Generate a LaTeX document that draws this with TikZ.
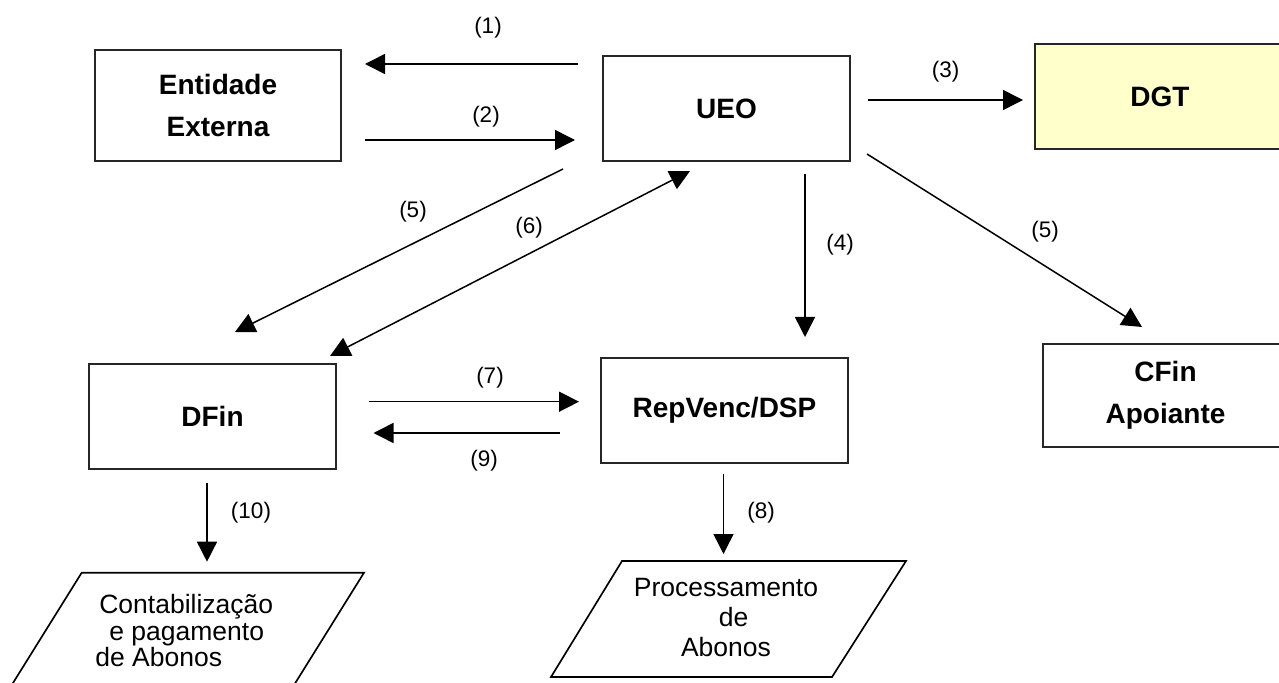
\documentclass[tikz,border=0pt]{standalone}
\usepackage{fontspec}
\setmainfont{Liberation Sans}
\usetikzlibrary{arrows.meta}
\definecolor{dgtfill}{HTML}{FFFFCC}
\begin{document}
\begin{tikzpicture}[x=0.6pt,y=-0.6pt,
  box/.style={draw=black!85, line width=1.2pt, inner sep=0pt, align=center,
    font=\fontsize{16.8}{25.2}\selectfont\bfseries},
  lbl/.style={font=\fontsize{13.5}{16}\selectfont, inner sep=0pt},
  flow/.style={line width=0.9pt, -{Triangle[length=12pt,width=12pt]}},
  twoway/.style={line width=0.9pt, {Triangle[length=12pt,width=12pt]}-{Triangle[length=12pt,width=12pt]}},
  ptext/.style={inner sep=0pt},
  io/.style={draw=black, line width=1pt}
]
\useasboundingbox (0,0) rectangle (1279,683);
\fill[white] (0,0) rectangle (1279,683);

% boxes
\node[box, minimum width=147.6pt, minimum height=66.6pt] (ent) at (218,105.5) {Entidade\\Externa};
\node[box, minimum width=148.2pt, minimum height=63pt] (ueo) at (726.5,108.5) {UEO};
\node[box, fill=dgtfill, minimum width=150pt, minimum height=63pt] (dgt) at (1160,96.5) {DGT};
\node[box, minimum width=148.2pt, minimum height=63pt] (dfin) at (212.5,416.5) {DFin};
\node[box, minimum width=148.2pt, minimum height=63pt] (rep) at (724.5,410.5) {RepVenc/DSP};
\node[box, minimum width=147pt, minimum height=61.8pt, font=\fontsize{16.8}{25}\selectfont\bfseries] (cfin) at (1165.5,395.5) {CFin\\Apoiante};

% parallelograms
\coordinate (pa1) at (81.7,572.7);
\coordinate (pa2) at (364,572.7);
\coordinate (pa3) at (284.7,700);
\coordinate (pa4) at (2.4,700);
\draw[io] (pa1) -- (pa2) -- (pa3) -- (pa4) -- cycle;
\node[ptext, anchor=north west, align=left, font=\fontsize{15.9}{16}\selectfont] (contab) at (95,594)
  {\hspace*{2.4pt}Contabilização\\\hspace*{8.4pt}e pagamento\\de Abonos};

\coordinate (pb1) at (622,561);
\coordinate (pb2) at (906,561);
\coordinate (pb3) at (832,677);
\coordinate (pb4) at (551,677);
\draw[io] (pb1) -- (pb2) -- (pb3) -- (pb4) -- cycle;
\node[ptext, anchor=north, align=center, font=\fontsize{15.9}{18}\selectfont] (proc) at (726,578)
  {Processamento\\\hspace*{9pt}de\\Abonos};

% connector end points
\coordinate (a1s) at (578,64);   \coordinate (a1e) at (365,64);
\coordinate (a2s) at (364.5,140); \coordinate (a2e) at (575,140);
\coordinate (a3s) at (868,100);  \coordinate (a3e) at (1023,100);
\coordinate (a4s) at (805,174);  \coordinate (a4e) at (805,337);
\coordinate (a5s) at (867,154);  \coordinate (a5e) at (1142,327);
\coordinate (b5s) at (563,169);  \coordinate (b5e) at (235,332);
\coordinate (a6s) at (330,356);  \coordinate (a6e) at (690,171);
\coordinate (a7s) at (368.6,401.7); \coordinate (a7e) at (579,401.7);
\coordinate (a9s) at (560,433);  \coordinate (a9e) at (373.5,433);
\coordinate (a10s) at (207,482.7); \coordinate (a10e) at (207,561.7);
\coordinate (a8s) at (723.5,474); \coordinate (a8e) at (723.5,554);

\draw[flow] (a1s) -- (a1e);
\draw[flow] (a2s) -- (a2e);
\draw[flow] (a3s) -- (a3e);
\draw[flow] (a4s) -- (a4e);
\draw[flow] (a5s) -- (a5e);
\draw[flow] (b5s) -- (b5e);
\draw[twoway] (a6s) -- (a6e);
\draw[flow] (a7s) -- (a7e);
\draw[flow] (a9s) -- (a9e);
\draw[flow] (a10s) -- (a10e);
\draw[flow] (a8s) -- (a8e);

% labels
\node[lbl] (l1) at (488,28) {(1)};
\node[lbl] (l2) at (486,117) {(2)};
\node[lbl] (l3) at (945.6,72) {(3)};
\node[lbl] (l4) at (840,245) {(4)};
\node[lbl] (l5r) at (1045,232) {(5)};
\node[lbl] (l5l) at (413,212) {(5)};
\node[lbl] (l6) at (529,228) {(6)};
\node[lbl] (l7) at (490,378) {(7)};
\node[lbl] (l9) at (484,461) {(9)};
\node[lbl] (l10) at (251,513) {(10)};
\node[lbl] (l8) at (761,513) {(8)};
\end{tikzpicture}
\end{document}
